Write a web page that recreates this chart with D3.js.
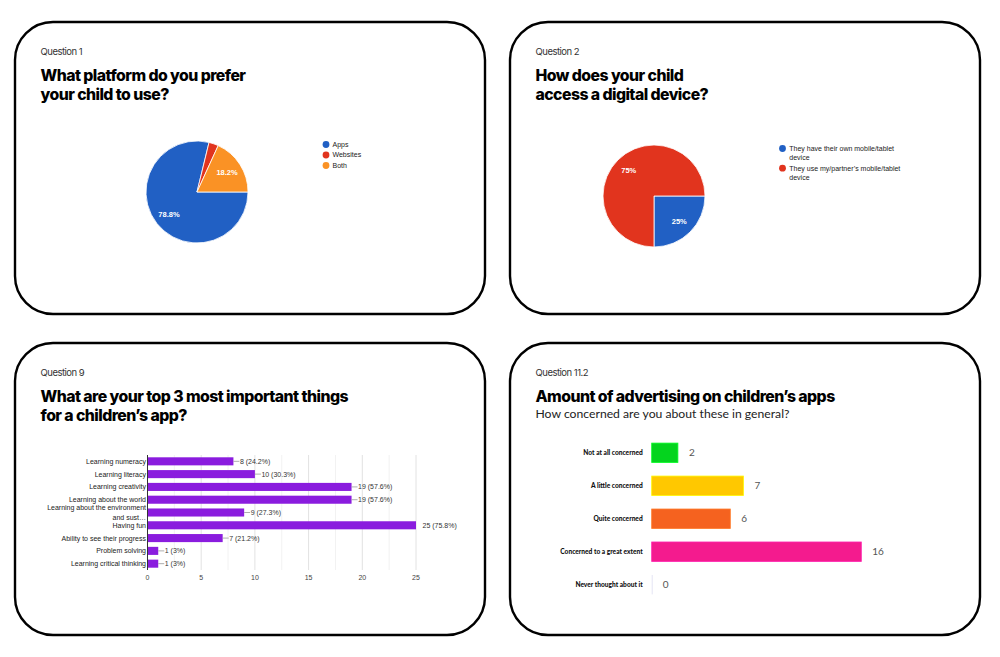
<!DOCTYPE html>
<html>
<head>
<meta charset="utf-8">
<script src="https://cdn.jsdelivr.net/npm/d3@7"></script>
<style>
  html, body { margin: 0; padding: 0; background: #fff; }
  svg { display: block; }
  .qlabel { font-family: Inter, "Noto Sans", sans-serif; font-size: 9.5px; fill: #333; letter-spacing: -0.5px; }
  .title { font-family: Inter, "Noto Sans", sans-serif; font-weight: 800; font-size: 15.8px; fill: #000; letter-spacing: -0.55px; }
  .subtitle { font-family: Lato, "Noto Sans", sans-serif; font-size: 12.2px; fill: #222; }
  .gc { font-family: "Liberation Sans", Arial, sans-serif; }
</style>
</head>
<body>
<svg id="chart" width="1000" height="657"></svg>
<script>
// ---------- DATA ----------
const q1Categories = ["Apps", "Websites", "Both"];
const q1Values = [26, 1, 6];
const q1Colors = ["#2160C4", "#E1341E", "#FA9225"];

const q2Categories = ["They have their own mobile/tablet device", "They use my/partner’s mobile/tablet device"];
const q2LegendLines = [["They have their own mobile/tablet", "device"], ["They use my/partner’s mobile/tablet", "device"]];
const q2Values = [25, 75];
const q2Colors = ["#2160C4", "#E1341E"];

const q9Categories = ["Learning numeracy", "Learning literacy", "Learning creativity", "Learning about the world",
  "Learning about the environment and sust…", "Having fun", "Ability to see their progress", "Problem solving", "Learning critical thinking"];
const q9LabelLines = [["Learning numeracy"], ["Learning literacy"], ["Learning creativity"], ["Learning about the world"],
  ["Learning about the environment", "and sust…"], ["Having fun"], ["Ability to see their progress"], ["Problem solving"], ["Learning critical thinking"]];
const q9Values = [8, 10, 19, 19, 9, 25, 7, 1, 1];
const q9Percents = ["24.2%", "30.3%", "57.6%", "57.6%", "27.3%", "75.8%", "21.2%", "3%", "3%"];
const q9Ticks = [0, 5, 10, 15, 20, 25];

const q11Categories = ["Not at all concerned", "A little concerned", "Quite concerned", "Concerned to a great extent", "Never thought about it"];
const q11Values = [2, 7, 6, 16, 0];
const q11Colors = ["#04D41E", "#FFC800", "#F5621F", "#F41B8E", "#E4E4F4"];

const panelTexts = [
  { q: "Question 1", title: ["What platform do you prefer", "your child to use?"] },
  { q: "Question 2", title: ["How does your child", "access a digital device?"] },
  { q: "Question 9", title: ["What are your top 3 most important things", "for a children’s app?"] },
  { q: "Question 11.2", title: ["Amount of advertising on children’s apps"], sub: "How concerned are you about these in general?" }
];

// ---------- LAYOUT ----------
const svg = d3.select("#chart");
const panels = [
  { x: 15, y: 22, w: 470, h: 292 },
  { x: 510, y: 22, w: 470, h: 292 },
  { x: 15, y: 343, w: 470, h: 292 },
  { x: 510, y: 343, w: 470, h: 292 }
];

panels.forEach((p, i) => {
  svg.append("rect").attr("x", p.x).attr("y", p.y).attr("width", p.w).attr("height", p.h)
    .attr("rx", 38).attr("ry", 38).attr("fill", "#fff").attr("stroke", "#000").attr("stroke-width", 2.4);
  const t = panelTexts[i];
  const tx = p.x + 25.5;
  svg.append("text").attr("class", "qlabel").attr("x", tx).attr("y", p.y + 33).text(t.q);
  t.title.forEach((line, j) => {
    svg.append("text").attr("class", "title").attr("x", tx).attr("y", p.y + 58.5 + j * 19).text(line);
  });
  if (t.sub) svg.append("text").attr("class", "subtitle").attr("x", tx).attr("y", p.y + 75).text(t.sub);
});

// ---------- PIE helper ----------
function drawPie(cx, cy, r, values, colors, labelFmt) {
  const total = d3.sum(values);
  const pie = d3.pie().sort(null).startAngle(Math.PI / 2).endAngle(Math.PI / 2 + 2 * Math.PI);
  const arcs = pie(values);
  const arc = d3.arc().innerRadius(0).outerRadius(r);
  const labelArc = d3.arc().innerRadius(r * 0.7).outerRadius(r * 0.7);
  const g = svg.append("g").attr("transform", `translate(${cx},${cy})`);
  g.selectAll("path").data(arcs).join("path")
    .attr("d", arc).attr("fill", (d, i) => colors[i]).attr("stroke", "#fff").attr("stroke-width", 0.8);
  g.selectAll("text").data(arcs.filter(d => d.value / total > 0.05)).join("text")
    .attr("class", "gc")
    .attr("transform", d => `translate(${labelArc.centroid(d)})`)
    .attr("text-anchor", "middle").attr("dy", "0.35em")
    .attr("font-size", 7.5).attr("font-weight", "bold").attr("fill", "#fff")
    .text(d => labelFmt(d.value / total));
}

// Q1 pie
drawPie(197, 192, 51, q1Values, q1Colors, v => d3.format(".1%")(v));
const lg1 = svg.append("g").attr("transform", "translate(326,144.5)");
q1Categories.forEach((c, i) => {
  lg1.append("circle").attr("cx", 0).attr("cy", i * 10.5).attr("r", 3.4).attr("fill", q1Colors[i]);
  lg1.append("text").attr("class", "gc").attr("x", 6.5).attr("y", i * 10.5).attr("dy", "0.35em")
    .attr("font-size", 7).attr("fill", "#222").text(c);
});

// Q2 pie
drawPie(654, 196, 51, q2Values, q2Colors, v => d3.format(".0%")(v));
const lg2 = svg.append("g").attr("transform", "translate(782.5,148.5)");
q2Categories.forEach((c, i) => {
  lg2.append("circle").attr("cx", 0).attr("cy", i * 19.7).attr("r", 3.4).attr("fill", q2Colors[i]);
  q2LegendLines[i].forEach((ln, j) => {
    lg2.append("text").attr("class", "gc").attr("x", 6.8).attr("y", i * 19.7 + j * 9).attr("dy", "0.35em")
      .attr("font-size", 7).attr("fill", "#222").text(ln);
  });
});

// ---------- Q9 horizontal bars ----------
{
  const x = d3.scaleLinear().domain([0, 25]).range([147.5, 416]);
  const y = d3.scaleBand().domain(q9Categories).range([455, 570]).paddingInner(0.37).paddingOuter(0.18);
  const g = svg.append("g");
  const minor = d3.range(2.5, 25, 5);
  g.selectAll("line.minor").data(minor).join("line")
    .attr("x1", d => x(d)).attr("x2", d => x(d)).attr("y1", 455).attr("y2", 570)
    .attr("stroke", "#f2f2f2").attr("stroke-width", 1);
  g.selectAll("line.major").data(q9Ticks.slice(1)).join("line")
    .attr("x1", d => x(d)).attr("x2", d => x(d)).attr("y1", 455).attr("y2", 570)
    .attr("stroke", "#e2e2e2").attr("stroke-width", 1);
  g.selectAll("rect.bar").data(q9Values).join("rect")
    .attr("x", x(0)).attr("y", (d, i) => y(q9Categories[i]))
    .attr("width", d => x(d) - x(0)).attr("height", y.bandwidth())
    .attr("fill", "#8A1CDE");
  g.append("line").attr("x1", x(0)).attr("x2", x(0)).attr("y1", 455).attr("y2", 570)
    .attr("stroke", "#333").attr("stroke-width", 1);
  q9Values.forEach((v, i) => {
    const cy = y(q9Categories[i]) + y.bandwidth() / 2;
    const xe = x(v);
    const inside = v < x.domain()[1];
    if (inside) g.append("line").attr("x1", xe).attr("x2", xe + 6).attr("y1", cy).attr("y2", cy)
      .attr("stroke", "#999").attr("stroke-width", 0.8);
    g.append("text").attr("class", "gc").attr("x", xe + 6.5).attr("y", cy).attr("dy", "0.35em")
      .attr("font-size", 7).attr("fill", "#333").text(`${v} (${q9Percents[i]})`);
    const lines = q9LabelLines[i];
    lines.forEach((ln, j) => {
      g.append("text").attr("class", "gc").attr("x", x(0) - 1.5)
        .attr("y", cy + (j - (lines.length - 1) / 2) * 9.6).attr("dy", "0.35em")
        .attr("text-anchor", "end").attr("font-size", 7).attr("fill", "#222").text(ln);
    });
  });
  g.selectAll("text.tick").data(q9Ticks).join("text")
    .attr("class", "gc").attr("x", d => x(d)).attr("y", 577.7).attr("dy", "0.35em")
    .attr("text-anchor", "middle").attr("font-size", 7).attr("fill", "#444").text(d => d);
}

// ---------- Q11.2 horizontal bars ----------
{
  const x = d3.scaleLinear().domain([0, 16]).range([651.7, 861.3]);
  const y = d3.scaleBand().domain(q11Categories).range([436.5, 601]).paddingInner(0.41).paddingOuter(0.2);
  const g = svg.append("g");
  q11Values.forEach((v, i) => {
    const yy = y(q11Categories[i]);
    const w = Math.max(x(v) - x(0), 1);
    g.append("rect").attr("x", x(0)).attr("y", yy).attr("width", w).attr("height", y.bandwidth())
      .attr("fill", q11Colors[i]).attr("stroke", d3.color(q11Colors[i]).brighter(0.6)).attr("stroke-width", v > 0 ? 0.8 : 0);
    const cy = yy + y.bandwidth() / 2;
    g.append("text").attr("x", x(v) + 11).attr("y", cy).attr("dy", "0.35em")
      .attr("font-family", "Lato, sans-serif").attr("font-size", 10).attr("fill", "#555").text(v);
    g.append("text").attr("x", x(0) - 9).attr("y", cy).attr("dy", "0.35em").attr("text-anchor", "end")
      .attr("font-family", "Lato, sans-serif").attr("font-weight", 900).attr("font-size", 6.6).attr("fill", "#111")
      .text(q11Categories[i]);
  });
}
</script>
</body>
</html>
